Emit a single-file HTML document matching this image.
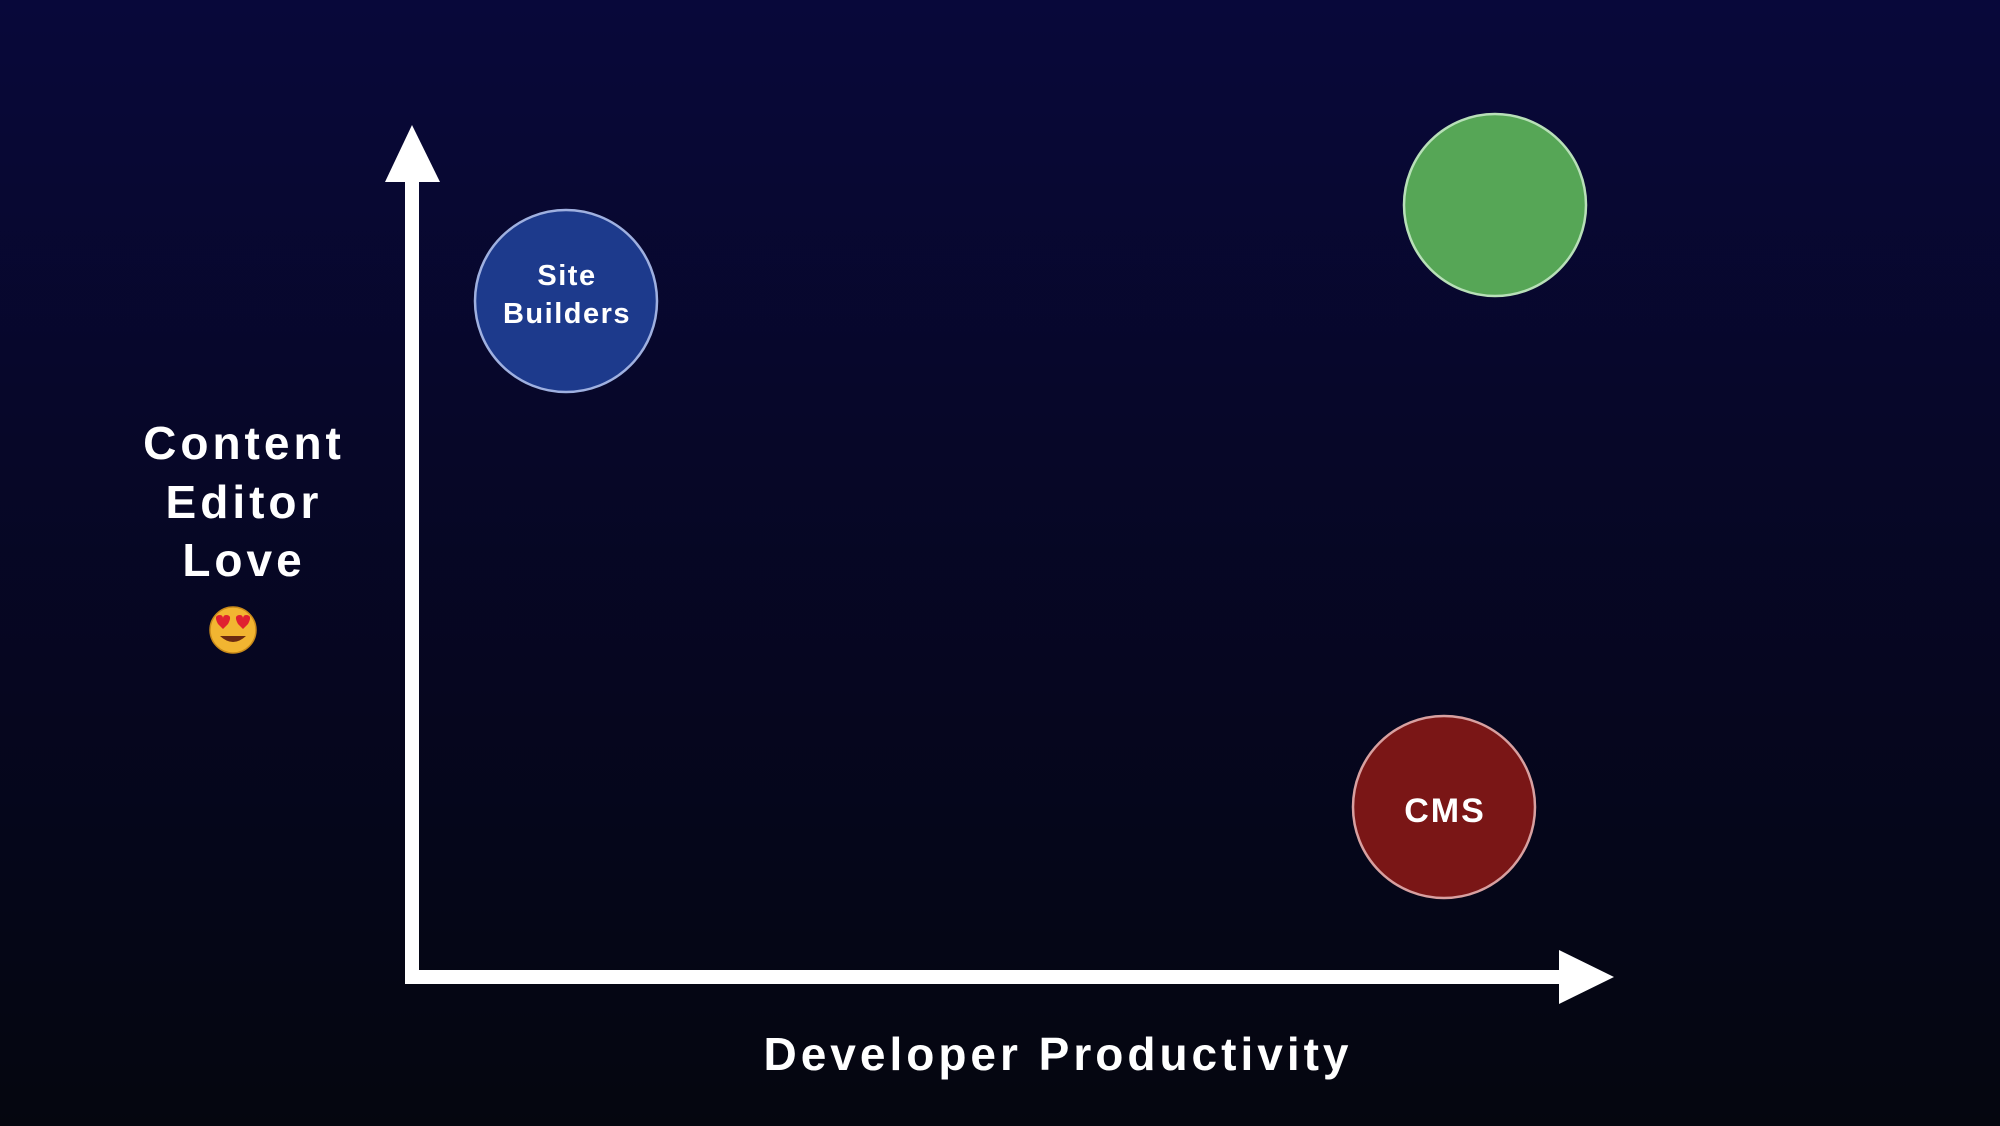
<!DOCTYPE html>
<html><head><meta charset="utf-8"><style>
html,body{margin:0;padding:0}
body{width:2000px;height:1126px;overflow:hidden;background:linear-gradient(180deg,#08083a 0%,#070728 40%,#05061a 75%,#05060f 100%);font-family:"Liberation Sans",sans-serif}
svg{position:absolute;left:0;top:0}
</style></head><body>
<svg width="2000" height="1126" viewBox="0 0 2000 1126">
<g fill="#ffffff">
<rect x="405" y="178" width="14" height="806"/>
<polygon points="412,125 385,182 440,182"/>
<rect x="405" y="970" width="1158" height="14"/>
<polygon points="1614,977 1559,950 1559,1004"/>
</g>
<circle cx="566" cy="301" r="91" fill="#1d3a8c" stroke="#9fb0e0" stroke-width="2.5"/>
<circle cx="1495" cy="205" r="91" fill="#56a656" stroke="#b8e0b8" stroke-width="2.5"/>
<circle cx="1444" cy="807" r="91" fill="#7a1616" stroke="#d8a0a0" stroke-width="2.5"/>
<g fill="#ffffff" font-family="Liberation Sans, sans-serif" font-weight="bold" text-anchor="middle">
<text x="567" y="285" font-size="29" letter-spacing="1.5">Site</text>
<text x="567" y="323" font-size="29" letter-spacing="1.5">Builders</text>
<text x="1445" y="822" font-size="34" letter-spacing="2">CMS</text>
<text x="244" y="459" font-size="46" letter-spacing="4">Content</text>
<text x="244" y="518" font-size="46" letter-spacing="4">Editor</text>
<text x="244" y="576" font-size="46" letter-spacing="4">Love</text>
<text x="1058" y="1070" font-size="46" letter-spacing="4">Developer Productivity</text>
</g>
<circle cx="233" cy="630" r="23" fill="#f2b531"/>
<circle cx="233" cy="630" r="23" fill="none" stroke="#c98a1a" stroke-width="1.5"/>
<path d="M218 624 q-5 -9 2 -9 q3 0 3 4 q0 -4 3 -4 q7 0 2 9 l-5 5z" fill="#e02030"/>
<path d="M238 624 q-5 -9 2 -9 q3 0 3 4 q0 -4 3 -4 q7 0 2 9 l-5 5z" fill="#e02030"/>
<path d="M220 636 q13 12 26 0 z" fill="#6b2a10"/>
</svg>
</body></html>
